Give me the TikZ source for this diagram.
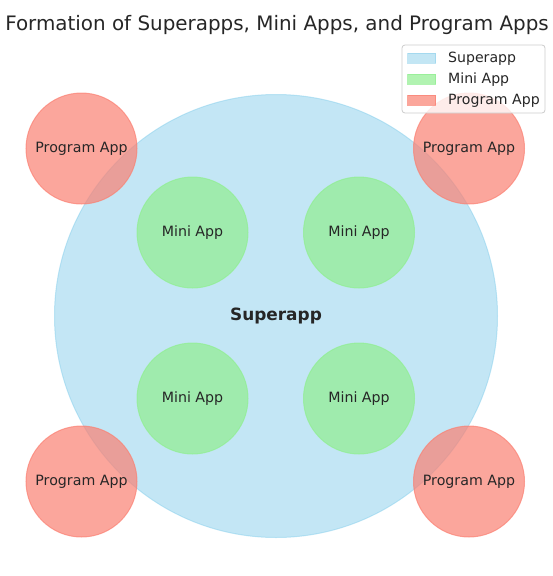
\documentclass[tikz,border=0pt]{standalone}
\usepackage{fontspec}
\setmainfont{DejaVu Sans}
\definecolor{skyblue}{RGB}{135,206,235}
\definecolor{lightgreen}{RGB}{144,238,144}
\definecolor{salmon}{RGB}{250,128,114}
\definecolor{txt}{RGB}{38,38,38}
\tikzset{
  superapp/.style={circle, inner sep=0pt, minimum size=443pt, fill=skyblue, draw=skyblue,
    fill opacity=.5, draw opacity=.5, text opacity=1, line width=1pt},
  miniapp/.style={circle, inner sep=0pt, minimum size=111pt, fill=lightgreen, draw=lightgreen,
    fill opacity=.7, draw opacity=.7, text opacity=1, line width=1pt},
  progapp/.style={circle, inner sep=0pt, minimum size=111pt, fill=salmon, draw=salmon,
    fill opacity=.7, draw opacity=.7, text opacity=1, line width=1pt},
  patch/.style={rectangle, inner sep=0pt, minimum width=28pt, minimum height=10pt, line width=1pt},
  legtext/.style={anchor=west, inner sep=0pt, font=\fontsize{14.1}{16}\selectfont, text=txt}
}
\begin{document}
\begin{tikzpicture}[x=1pt, y=-1pt, font=\fontsize{14.2}{16}\selectfont, text=txt]
\useasboundingbox (0,0) rectangle (553,576);
% title
\node (title) at (277,25) {\fontsize{19.9}{23}\selectfont Formation of Superapps, Mini Apps, and Program Apps};
% superapp
\node[superapp] (super) at (276,316) {\fontsize{16.9}{20}\selectfont\bfseries Superapp};
% mini apps
\node[miniapp] (mini1) at (192.5,232.5) {Mini App};
\node[miniapp] (mini2) at (359,232.5) {Mini App};
\node[miniapp] (mini3) at (192.5,398.5) {Mini App};
\node[miniapp] (mini4) at (359,398.5) {Mini App};
% program apps
\node[progapp] (prog1) at (81.5,148.5) {Program App};
\node[progapp] (prog2) at (469,148.5) {Program App};
\node[progapp] (prog3) at (81.5,481.5) {Program App};
\node[progapp] (prog4) at (469,481.5) {Program App};
% legend
\draw[rounded corners=3pt, fill=white, fill opacity=.8, draw=black!20, line width=.8pt] (402,45) rectangle (545,113);
\node[patch, fill=skyblue, draw=skyblue, fill opacity=.5, draw opacity=.5] (pSuper) at (421.5,58) {};
\node[patch, fill=lightgreen, draw=lightgreen, fill opacity=.7, draw opacity=.7] (pMini) at (421.5,79) {};
\node[patch, fill=salmon, draw=salmon, fill opacity=.7, draw opacity=.7] (pProg) at (421.5,100) {};
\node[legtext] (lSuper) at (448,59) {Superapp};
\node[legtext] (lMini) at (448,80) {Mini App};
\node[legtext] (lProg) at (448,101) {Program App};
\end{tikzpicture}
\end{document}
